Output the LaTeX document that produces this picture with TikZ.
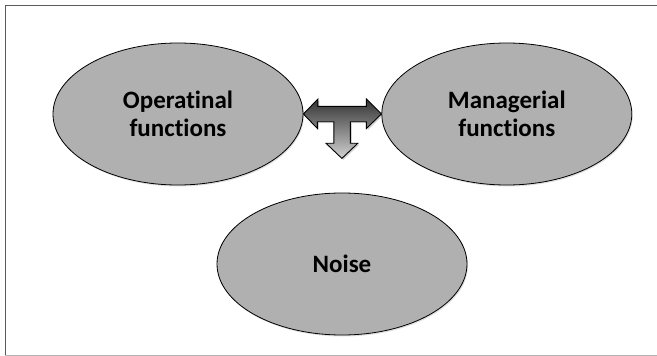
\documentclass[tikz,border=0pt]{standalone}
\usepackage{fontspec}
\setmainfont{Carlito}[Ligatures=NoCommon]
\usetikzlibrary{shapes.geometric,positioning,shadows}
\definecolor{fngray}{HTML}{B0B0B0}
\definecolor{framegray}{HTML}{5A5A5A}
\tikzset{
  fnbox/.style={ellipse, draw=black, fill=fngray, line width=0.8pt,
    minimum width=250pt, minimum height=142pt, inner sep=0pt,
    align=center, font=\fontsize{25}{28}\selectfont\bfseries,
    drop shadow={opacity=0.25, shadow xshift=1pt, shadow yshift=-1.5pt}},
  tarrow/.style={draw=black, line width=0.9pt, line join=miter,
    top color=black!80, bottom color=black!18,
    drop shadow={opacity=0.35, shadow xshift=1.5pt, shadow yshift=-1.5pt}}
}
\begin{document}
\begin{tikzpicture}[x=1pt,y=-1pt]
    \useasboundingbox (0,0) rectangle (657,356);
    \draw[framegray, line width=1pt] (657,5.5) -- (5,5.5) -- (5,355);
    \draw[black!30, line width=1pt] (5,355) -- (657,355);
    \node[fnbox] (ops) at (178,114) {Operatinal\\functions};
    \node[fnbox, right=78pt of ops] (mgr) {Managerial\\functions};
    \node[fnbox] (noise) at (342,264) {Noise};
    % two-way arrow with a stem down to the noise
    \path[tarrow] (ops.east) -- ++(14.5,-15) -- ++(0,7.3) -- ++(48.5,0)
      -- ++(0,-7.3) -- (mgr.west) -- ++(-15,14.5) -- ++(0,-6.8)
      -- ++(-16,0) -- ++(0,21.5) -- ++(7.5,0) -- ++(-16,15.2)
      -- ++(-16,-15.2) -- ++(8,0) -- ++(0,-21.5) -- ++(-16.5,0)
      -- ++(0,6.8) -- cycle;
\end{tikzpicture}
\end{document}
